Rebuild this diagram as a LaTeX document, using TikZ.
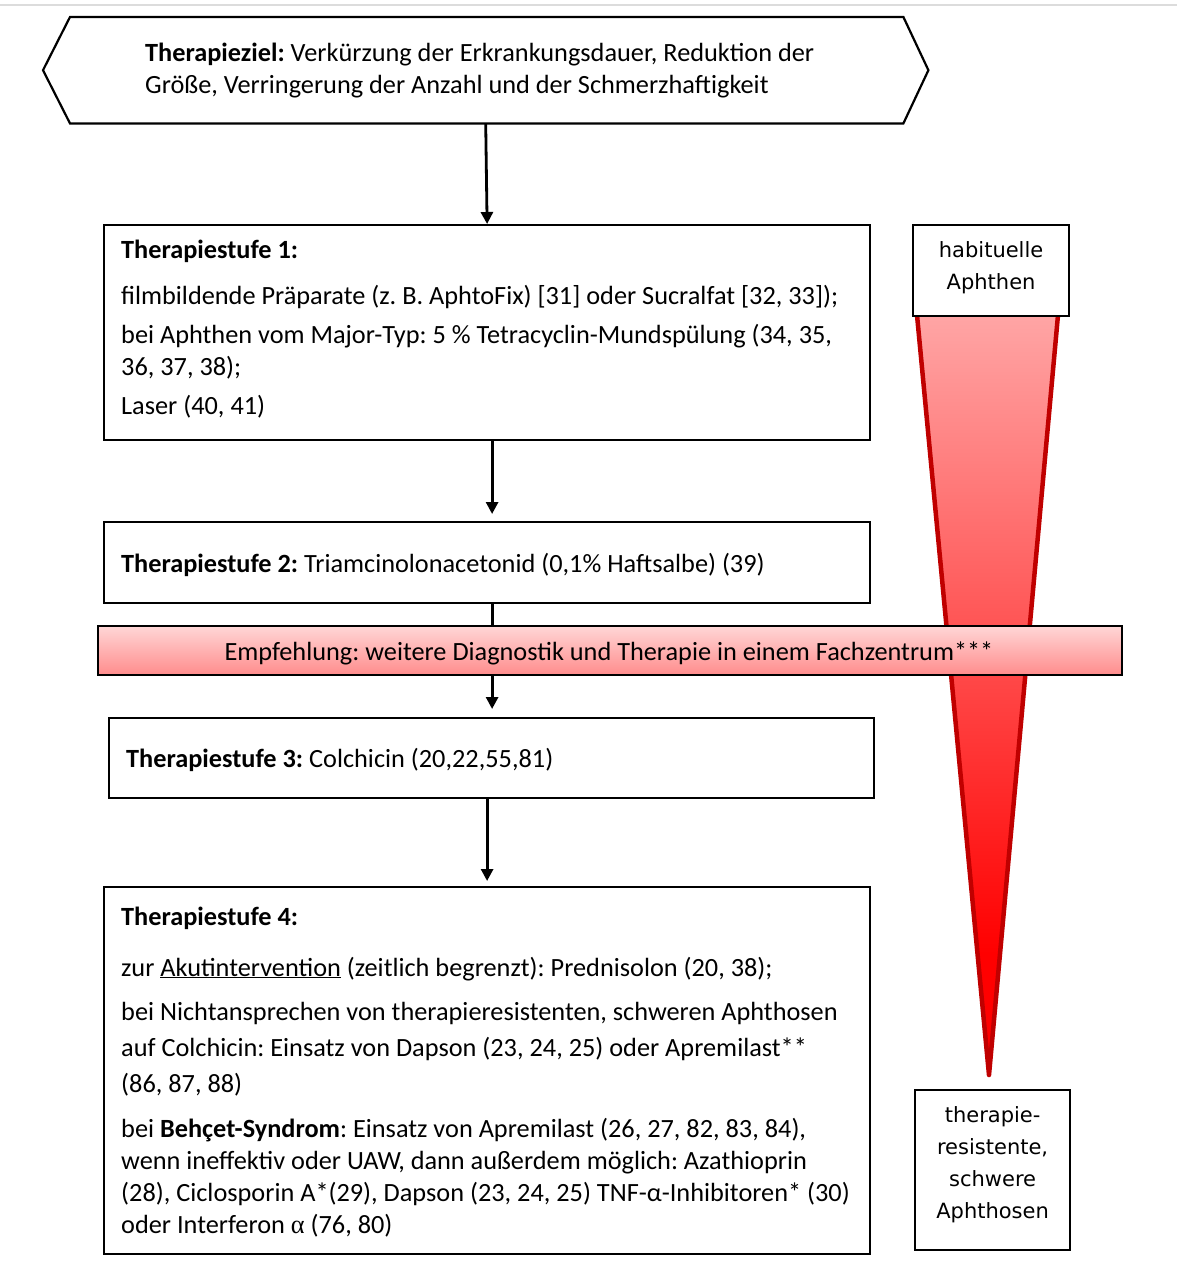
\documentclass[tikz,border=0pt]{standalone}
\usepackage{fontspec}
\setmainfont{Carlito}
\newfontfamily\sidefont{DejaVu Sans}
\newfontfamily\serifg{Liberation Serif}
\usetikzlibrary{arrows.meta}
\definecolor{tridark}{RGB}{192,0,0}
\definecolor{tritop}{RGB}{255,165,165}
\definecolor{banTop}{RGB}{255,214,214}
\definecolor{banBot}{RGB}{255,140,140}
\definecolor{sepgray}{RGB}{220,220,220}
\pgfdeclareverticalshading{trishade}{100bp}{color(0bp)=(red); color(33bp)=(red); color(75bp)=(tritop); color(100bp)=(tritop)}
\frenchspacing
\begin{document}
\frenchspacing
\begin{tikzpicture}[x=1pt,y=-1pt,
  box/.style={draw=black, line width=2.2pt, fill=white, inner sep=0, anchor=north west},
  ghost/.style={inner sep=0, anchor=north west},
  arr/.style={line width=2.8pt, -{Triangle[length=12pt,width=12pt]}},
  plainline/.style={line width=2.8pt},
  txt/.style={anchor=base west, inner sep=0, font=\fontsize{26.3}{32}\selectfont},
  ctxt/.style={anchor=base, inner sep=0, font=\fontsize{26.3}{32}\selectfont},
  sidetxt/.style={anchor=base, inner sep=0, font=\sidefont\fontsize{21}{32}\selectfont}]
\useasboundingbox (0,0) rectangle (1177,1283);
\fill[white] (0,0) rectangle (1177,1283);
\draw[sepgray, line width=1.5pt] (0,5) -- (1177,5);

% goal hexagon
\node[ghost, minimum width=885pt, minimum height=106pt] (goal) at (43,17) {};
\draw[line width=2.2pt, fill=white] (goal.west) -- ([xshift=27pt]goal.north west) -- ([xshift=-25pt]goal.north east) -- (goal.east) -- ([xshift=-25pt]goal.south east) -- ([xshift=27pt]goal.south west) -- cycle;
\node[txt] (g1) at (145,61) {\textbf{Therapieziel:} Verkürzung der Erkrankungsdauer, Reduktion der};
\node[txt] (g2) at (145,93) {Größe, Verringerung der Anzahl und der Schmerzhaftigkeit};

% triangle
\coordinate (tl) at (917,315);
\coordinate (tr) at (1058,315);
\coordinate (tip) at (989,1075);
\shade[shading=trishade] (tl) -- (tr) -- (tip) -- cycle;
\draw[tridark, line width=4.5pt, line join=round, line cap=round] (tl) -- (tip) -- (tr);

% boxes
\node[box, minimum width=766pt, minimum height=215pt] (s1) at (103,224) {};
\node[box, minimum width=156pt, minimum height=91pt] (hab) at (912,224) {};
\node[box, minimum width=766pt, minimum height=81pt] (s2) at (103,521) {};
\node[box, minimum width=765pt, minimum height=80pt] (s3) at (108,717) {};
\node[box, minimum width=766pt, minimum height=367pt] (s4) at (103,886) {};
\node[box, minimum width=155pt, minimum height=160pt] (res) at (914,1089) {};
\node[draw=black, line width=2.2pt, top color=banTop, bottom color=banBot, inner sep=0, anchor=north west, minimum width=1024pt, minimum height=49pt] (ban) at (97,625) {};

% connectors
\draw[arr] (goal.south) -- (s1.north);
\draw[arr, shorten >=7pt] ([xshift=5pt]s1.south) -- ([xshift=5pt]s2.north);
\draw[plainline] ([xshift=5pt]s2.south) -- ([xshift=5pt]s2.south |- ban.north);
\draw[arr, shorten >=8pt] ([xshift=5pt]s2.south |- ban.south) -- ([xshift=5pt]s2.south |- s3.north);
\draw[arr, shorten >=5pt] (s4.north |- s3.south) -- (s4.north);

% texts step 1
\node[txt] (a1) at (121,258) {\textbf{Therapiestufe 1:}};
\node[txt] (a2) at (121,304) {filmbildende Präparate (z. B. AphtoFix) [31] oder Sucralfat [32, 33]);};
\node[txt] (a3) at (121,343) {bei Aphthen vom Major-Typ: 5 \% Tetracyclin-Mundspülung (34, 35,};
\node[txt] (a4) at (121,375) {36, 37, 38);};
\node[txt] (a5) at (121,414) {Laser (40, 41)};

% step 2
\node[txt] (b1) at (121,572) {\textbf{Therapiestufe 2:} Triamcinolonacetonid (0,1\% Haftsalbe) (39)};

% banner text
\node[ctxt] (bt) at (609,660) {Empfehlung: weitere Diagnostik und Therapie in einem Fachzentrum***};

% step 3
\node[txt] (c1) at (126,767) {\textbf{Therapiestufe 3:} Colchicin (20,22,55,81)};

% step 4
\node[txt] (d1) at (121,925) {\textbf{Therapiestufe 4:}};
\node[txt] (d2) at (121,976) {zur \underline{Akutintervention} (zeitlich begrenzt): Prednisolon (20, 38);};
\node[txt] (d3) at (121,1020) {bei Nichtansprechen von therapieresistenten, schweren Aphthosen};
\node[txt] (d4) at (121,1056) {auf Colchicin: Einsatz von Dapson (23, 24, 25) oder Apremilast**};
\node[txt] (d5) at (121,1092) {(86, 87, 88)};
\node[txt] (d6) at (121,1137) {bei \textbf{Behçet-Syndrom}: Einsatz von Apremilast (26, 27, 82, 83, 84),};
\node[txt] (d7) at (121,1169) {wenn ineffektiv oder UAW, dann außerdem möglich: Azathioprin};
\node[txt] (d8) at (121,1201) {(28), Ciclosporin A*(29), Dapson (23, 24, 25) TNF-α-Inhibitoren* (30)};
\node[txt] (d9) at (121,1233) {oder Interferon {\serifg α} (76, 80)};

% side texts
\node[sidetxt] (h1) at (hab.center |- 0,257) {habituelle};
\node[sidetxt] (h2) at (hab.center |- 0,289) {Aphthen};
\node[sidetxt] (r1) at (res.center |- 0,1122) {therapie-};
\node[sidetxt] (r2) at (res.center |- 0,1154) {resistente,};
\node[sidetxt] (r3) at (res.center |- 0,1186) {schwere};
\node[sidetxt] (r4) at (res.center |- 0,1218) {Aphthosen};
\end{tikzpicture}
\end{document}
